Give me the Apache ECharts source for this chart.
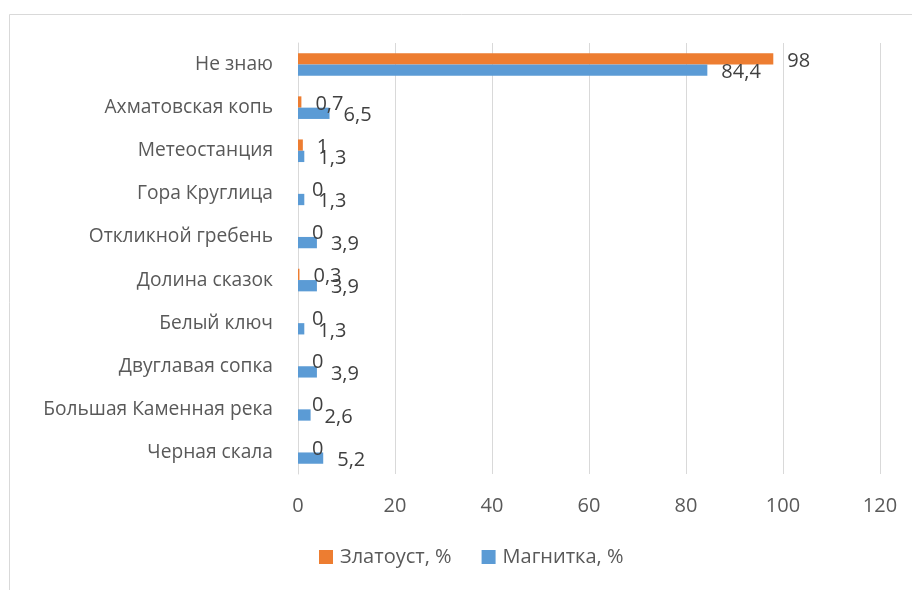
<!DOCTYPE html>
<html>
<head>
<meta charset="utf-8">
<script src="https://cdn.jsdelivr.net/npm/echarts@6/dist/echarts.min.js"></script>
<style>
  html, body { margin: 0; padding: 0; background: #fff; }
  #chart { width: 912px; height: 590px; }
</style>
</head>
<body>
<div id="chart"></div>
<script>
// Places (top to bottom as listed on the axis)
const categories = [
  'Не знаю',
  'Ахматовская копь',
  'Метеостанция',
  'Гора Круглица',
  'Откликной гребень',
  'Долина сказок',
  'Белый ключ',
  'Двуглавая сопка',
  'Большая Каменная река',
  'Черная скала'
];
const seriesNames = ['Златоуст, %', 'Магнитка, %'];
const zlatoust = [98, 0.7, 1, 0, 0, 0.3, 0, 0, 0, 0];
const magnitka = [84.4, 6.5, 1.3, 1.3, 3.9, 3.9, 1.3, 3.9, 2.6, 5.2];
const xTicks = [0, 20, 40, 60, 80, 100, 120];

const FONT = 'Open Sans';
const SIZE = 20;
const fmt = p => String(p.value).replace('.', ',');

const labelStyle = {
  show: true,
  position: 'right',
  distance: 14,
  offset: [0, 2],
  color: '#404040',
  fontFamily: FONT,
  fontSize: SIZE,
  formatter: fmt
};

const chart = echarts.init(document.getElementById('chart'), null, { renderer: 'canvas' });
chart.setOption({
  animation: false,
  backgroundColor: '#fff',
  graphic: [{
    type: 'rect',
    shape: { x: 9.5, y: 14.5, width: 920, height: 600 },
    style: { fill: 'none', stroke: '#d9d9d9', lineWidth: 1 },
    silent: true
  }],
  grid: { left: 298, right: 32, top: 43, bottom: 116, containLabel: false, outerBoundsMode: 'none' },
  legend: {
    bottom: 18,
    left: 314,
    itemWidth: 14,
    itemHeight: 14,
    itemGap: 30,
    icon: 'rect',
    textStyle: { color: '#595959', fontFamily: FONT, fontSize: SIZE, padding: [0, 0, 0, 2] },
    data: seriesNames
  },
  xAxis: {
    type: 'value',
    min: xTicks[0],
    max: xTicks[xTicks.length - 1],
    interval: xTicks[1] - xTicks[0],
    axisLine: { show: false },
    axisTick: { show: false },
    splitLine: { lineStyle: { color: '#d9d9d9', width: 1 } },
    axisLabel: { color: '#595959', fontFamily: FONT, fontSize: SIZE, margin: 22 }
  },
  yAxis: {
    type: 'category',
    data: categories,
    inverse: true,
    axisLine: { show: true, lineStyle: { color: '#d9d9d9' } },
    axisTick: { show: false },
    axisLabel: { color: '#595959', fontFamily: FONT, fontSize: 19.2, margin: 25 }
  },
  series: [
    {
      name: seriesNames[0],
      type: 'bar',
      data: zlatoust,
      barWidth: 11.3,
      barGap: '0%',
      itemStyle: { color: '#ED7D31' },
      label: labelStyle
    },
    {
      name: seriesNames[1],
      type: 'bar',
      data: magnitka,
      barWidth: 11.3,
      barGap: '0%',
      itemStyle: { color: '#5B9BD5' },
      label: labelStyle
    }
  ]
});
</script>
</body>
</html>
